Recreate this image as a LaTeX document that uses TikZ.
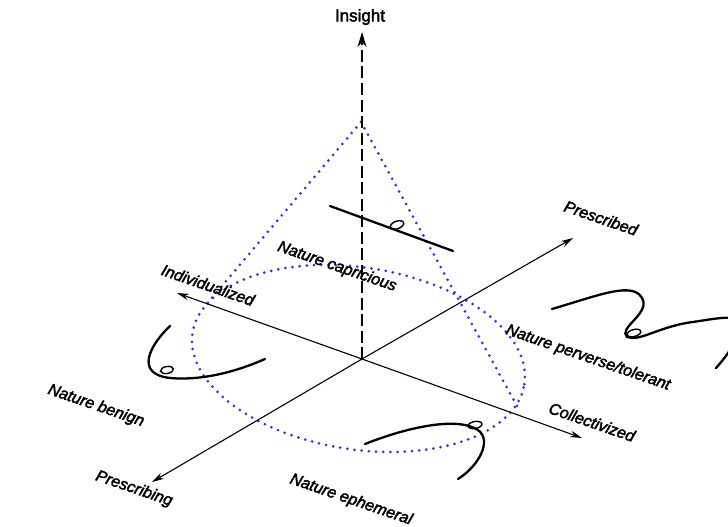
\documentclass[tikz,border=0pt]{standalone}
\usepackage{fontspec}
\setmainfont{Liberation Sans}[FakeBold=2.5]
\usetikzlibrary{arrows.meta}
\definecolor{coneblue}{RGB}{50,50,225}

\begin{document}
\begin{tikzpicture}[
    x=1pt, y=-1pt,
    font=\fontsize{16}{19}\selectfont,
    >={Stealth[length=12pt,width=6.5pt]},
    axis/.style={->, line width=1.1pt},
    lbl/.style={inner sep=0pt, rotate=-19, font=\fontsize{16}{19}\selectfont\itshape},
    cone/.style={draw=coneblue, line width=3pt, line cap=round, dash pattern=on 0pt off 7.2pt},
    trail/.style={line width=2.3pt, line cap=round},
    knot/.style={line width=1.4pt}
]
    \useasboundingbox (0,0) rectangle (728,527);
    \clip (0,0) rectangle (728,527);

    \coordinate (o) at (362,359);
    \coordinate (ins) at (362,32);
    \coordinate (ind) at (177,293);
    \coordinate (col) at (582,438);
    \coordinate (pbd) at (573,238);
    \coordinate (pbg) at (152,482);
    \coordinate (apex) at (361,122);
    \coordinate (ctr) at (358.5,358.5);
    \coordinate (tl) at (205,306);
    \coordinate (tr) at (517,406);

    \draw[cone, rotate around={-8.8:(ctr)}] (ctr) ellipse [x radius=167.9pt, y radius=91pt];
    \draw[cone] (apex) -- (tl);
    \draw[cone] (apex) -- (tr);

    \draw[line width=1.5pt, dash pattern=on 12pt off 4.5pt, -{Stealth[length=15pt,width=9pt]}] (o) -- (ins);
    \draw[axis] (o) -- (ind);
    \draw[axis] (o) -- (col);
    \draw[axis] (o) -- (pbd);
    \draw[axis] (o) -- (pbg);

    \node[font=\fontsize{17}{20}\selectfont] (insl) at (360,17) {Insight};
    \node[lbl] (indl) at (208,285) {Individualized};
    \node[lbl] (capl) at (337,267) {Nature capricious};
    \node[lbl] (perl) at (588,358) {Nature perverse/tolerant};
    \node[lbl] (coll) at (592,422) {Collectivized};
    \node[lbl] (pbdl) at (601,218) {Prescribed};
    \node[lbl] (benl) at (96,406) {Nature benign};
    \node[lbl] (pbgl) at (134,489) {Prescribing};
    \node[lbl] (ephl) at (351,500) {Nature ephemeral};

    % the four myths of nature
    \draw[trail] (330,206) -- (453,251);
    \draw[knot, rotate around={20:(397,225)}] (397,225) ellipse [x radius=7pt, y radius=3.8pt];

    \draw[trail] (170,326) .. controls (150,345) and (134,374) .. (170,378) .. controls (205,381) and (240,370) .. (265,359);
    \draw[knot, rotate around={10:(167,370)}] (167,370) ellipse [x radius=6.5pt, y radius=3.5pt];

    \draw[trail] (552,309) .. controls (600,295) and (635,280) .. (643,300) .. controls (648,315) and (618,328) .. (627,337)
        .. controls (640,342) and (660,326) .. (693,322) .. controls (720,318) and (745,312) .. (740,330)
        .. controls (735,345) and (725,358) .. (716,368);
    \draw[knot, rotate around={15:(634,333)}] (634,333) ellipse [x radius=7pt, y radius=3.5pt];

    \draw[trail] (365,444) .. controls (400,430) and (455,415) .. (478,430) .. controls (492,440) and (480,465) .. (458,479);
    \draw[knot, rotate around={10:(475,425)}] (475,425) ellipse [x radius=7pt, y radius=3.5pt];
\end{tikzpicture}
\end{document}
